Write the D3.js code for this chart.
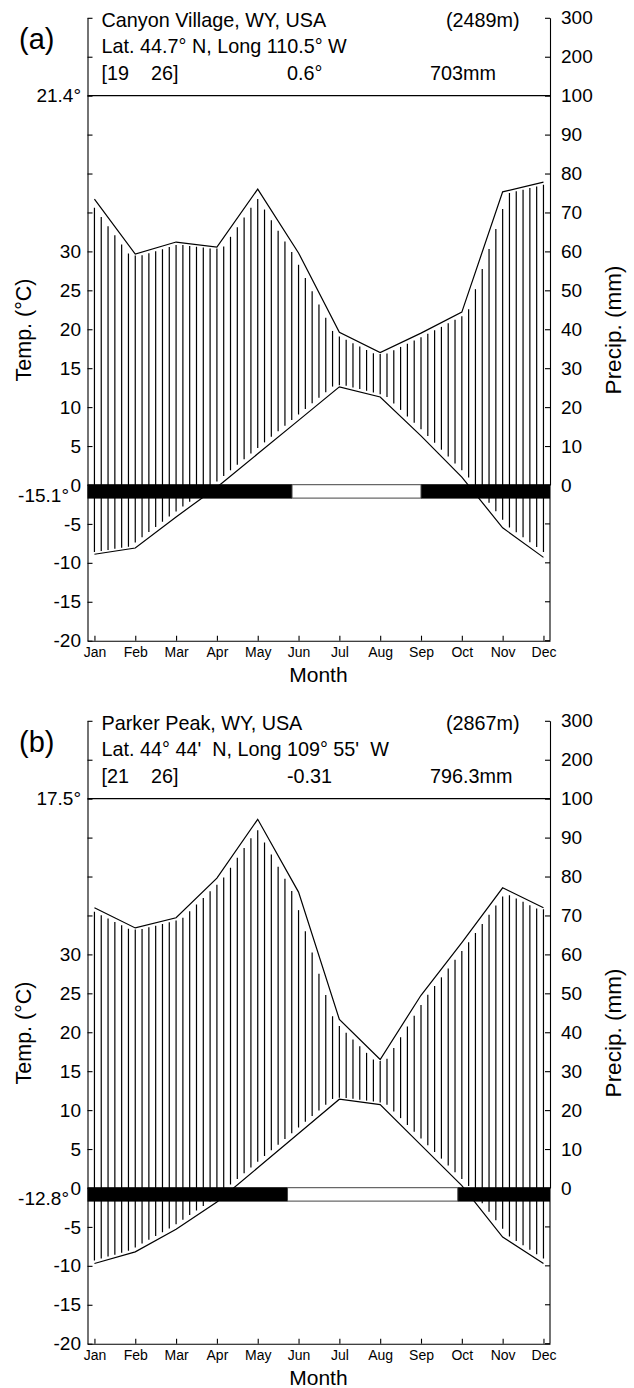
<!DOCTYPE html>
<html><head><meta charset="utf-8">
<script src="https://cdn.jsdelivr.net/npm/d3@7"></script>
<style>
html,body{margin:0;padding:0;background:#fff;}
svg{display:block;font-family:"Liberation Sans",Arial,sans-serif;}
</style></head><body>
<svg id="chart" width="634" height="1388"></svg>
<script>
// ---------- data ----------
const months = ["Jan","Feb","Mar","Apr","May","Jun","Jul","Aug","Sep","Oct","Nov","Dec"];
const panelLabels = ["(a)", "(b)"];
const stationNames = ["Canyon Village, WY, USA", "Parker Peak, WY, USA"];
const altitudes = ["(2489m)", "(2867m)"];
const coordTexts = ["Lat. 44.7° N, Long 110.5° W", "Lat. 44° 44'  N, Long 109° 55'  W"];
const periodTexts = ["[19    26]", "[21    26]"];
const meanTempTexts = ["0.6°", "-0.31"];
const annualPrecipTexts = ["703mm", "796.3mm"];
const maxWarmTexts = ["21.4°", "17.5°"];
const minColdTexts = ["-15.1°", "-12.8°"];

// monthly mean temperature (°C)
const tempA = [-8.9, -8.1, -4.1, -0.3, 4.0, 8.3, 12.6, 11.3, 6.3, 1.0, -5.5, -9.3];
const tempB = [-9.7, -8.2, -5.3, -1.8, 2.6, 7.0, 11.4, 10.7, 5.5, 0.3, -6.3, -9.7];
// monthly precipitation (mm)
const precipA = [73.4, 59.3, 62.4, 61.1, 76.0, 59.6, 39.2, 34.0, 39.0, 44.4, 75.3, 77.8];
const precipB = [72.0, 66.8, 69.4, 79.6, 94.7, 76.0, 43.3, 33.0, 49.5, 63.0, 77.1, 72.0];
// frost-free interval on the bar (month index, Jan = 0)
const frostFreeA = [4.84, 8.0];
const frostFreeB = [4.73, 8.9];

const tempTickLabels = [-20, -15, -10, -5, 0, 5, 10, 15, 20, 25, 30];
const precipTickLabels = [0, 10, 20, 30, 40, 50, 60, 70, 80, 90, 100, 200, 300];

const panels = [
  {label: panelLabels[0], name: stationNames[0], alt: altitudes[0], coord: coordTexts[0], period: periodTexts[0],
   meanT: meanTempTexts[0], annP: annualPrecipTexts[0], maxT: maxWarmTexts[0], minT: minColdTexts[0],
   temp: tempA, precip: precipA, frostFree: frostFreeA},
  {label: panelLabels[1], name: stationNames[1], alt: altitudes[1], coord: coordTexts[1], period: periodTexts[1],
   meanT: meanTempTexts[1], annP: annualPrecipTexts[1], maxT: maxWarmTexts[1], minT: minColdTexts[1],
   temp: tempB, precip: precipB, frostFree: frostFreeB}
];

// ---------- layout ----------
const svg = d3.select("#chart");
const panelOffset = 703;
const x = d3.scaleLinear().domain([-0.17, 11.16]).range([87.5, 550]);
const y = d3.scaleLinear().domain([-20, 60]).range([640.7, 17.8]);
// precipitation: 0-100 mm at 2 mm/°C, above 100 mm compressed (100 mm per 5 °C)
const yP = d3.scaleLinear().domain([0, 100, 300]).range([y(0), y(50), y(60)]);
const allTicks = d3.range(-20, 61, 5);

function interp(arr, m) {
  m = Math.max(0, Math.min(11, m));
  const i = Math.min(10, Math.floor(m));
  const f = m - i;
  return arr[i] * (1 - f) + arr[i + 1] * f;
}

panels.forEach((p, pi) => {
  const g = svg.append("g").attr("transform", `translate(0,${pi * panelOffset})`);

  // hatching (humid period)
  const d = 0.13;
  const hatch = [];
  for (let k = 0; k <= 66; k++) {
    const m = k / 6;
    const pr = Math.min(interp(p.precip, m), interp(p.precip, m - d), interp(p.precip, m + d));
    const tt = Math.max(interp(p.temp, m), interp(p.temp, m - d), interp(p.temp, m + d));
    hatch.push({m, top: yP(pr) + 1.5, bot: y(tt) - 1.5});
  }
  g.append("g").selectAll("line").data(hatch.filter(h => h.bot > h.top)).join("line")
    .attr("x1", h => x(h.m)).attr("x2", h => x(h.m))
    .attr("y1", h => h.top).attr("y2", h => h.bot)
    .attr("stroke", "#000").attr("stroke-width", 1.2);

  // curves
  g.append("path").datum(p.temp)
    .attr("d", d3.line().x((v, i) => x(i)).y(v => y(v)))
    .attr("fill", "none").attr("stroke", "#000").attr("stroke-width", 1.2);
  g.append("path").datum(p.precip)
    .attr("d", d3.line().x((v, i) => x(i)).y(v => yP(v)))
    .attr("fill", "none").attr("stroke", "#000").attr("stroke-width", 1.2);

  // frost bar
  const barTop = y(0.1), barBot = y(-1.75);
  const [x0, x1] = x.range();
  g.append("rect").attr("x", x0).attr("y", barTop).attr("width", x(p.frostFree[0]) - x0)
    .attr("height", barBot - barTop).attr("fill", "#000");
  g.append("rect").attr("x", x(p.frostFree[1])).attr("y", barTop).attr("width", x1 - x(p.frostFree[1]))
    .attr("height", barBot - barTop).attr("fill", "#000");
  g.append("rect").attr("x", x(p.frostFree[0])).attr("y", barTop + 0.5)
    .attr("width", x(p.frostFree[1]) - x(p.frostFree[0])).attr("height", barBot - barTop - 1)
    .attr("fill", "#fff").attr("stroke", "#444").attr("stroke-width", 1);

  // 100 mm line
  g.append("line").attr("x1", x0).attr("x2", x1).attr("y1", y(50)).attr("y2", y(50))
    .attr("stroke", "#000").attr("stroke-width", 1.4);

  // axes
  const leftAxis = d3.axisLeft(y).tickValues(allTicks).tickSizeInner(-5).tickSizeOuter(0).tickPadding(6.5)
    .tickFormat(v => tempTickLabels.includes(v) ? String(v) : "");
  const gl = g.append("g").attr("transform", `translate(${x0},0)`).call(leftAxis);
  const rightAxis = d3.axisRight(yP).tickValues(allTicks.filter(t => t >= 0).map(t => t <= 50 ? t * 2 : 100 + (t - 50) * 20))
    .tickSizeInner(-5).tickSizeOuter(0).tickPadding(11)
    .tickFormat(v => precipTickLabels.includes(v) ? String(v) : "");
  const gr = g.append("g").attr("transform", `translate(${x1},0)`).call(rightAxis);
  // right-axis ticks below zero (temperature grid)
  g.append("g").selectAll("line").data(allTicks.filter(t => t < 0)).join("line")
    .attr("x1", x1 - 5).attr("x2", x1).attr("y1", t => y(t)).attr("y2", t => y(t))
    .attr("stroke", "#000").attr("stroke-width", 1.1);
  g.append("line").attr("x1", x1).attr("x2", x1).attr("y1", y(0)).attr("y2", y(-20))
    .attr("stroke", "#000").attr("stroke-width", 1.1);
  const bottomAxis = d3.axisBottom(x).tickValues(d3.range(12)).tickSizeInner(-5).tickSizeOuter(0).tickPadding(6)
    .tickFormat(i => months[i]);
  const gb = g.append("g").attr("transform", `translate(0,${y(-20)})`).call(bottomAxis);

  [gl, gr, gb].forEach(a => {
    a.selectAll("path, line").attr("stroke", "#000").attr("stroke-width", 1.1);
    a.selectAll("text").attr("fill", "#000").style("font-family", '"Liberation Sans", Arial, sans-serif');
  });
  gl.selectAll("text").style("font-size", "19px");
  gr.selectAll("text").style("font-size", "19px");
  gb.selectAll("text").style("font-size", "14px");

  // extreme temperature labels
  g.append("text").attr("x", 81).attr("y", y(50)).attr("dy", "0.32em").attr("text-anchor", "end")
    .style("font-size", "19px").text(p.maxT);
  g.append("text").attr("x", 69).attr("y", y(-1.4)).attr("dy", "0.32em").attr("text-anchor", "end")
    .style("font-size", "19px").text(p.minT);

  // header
  g.append("text").attr("x", 19).attr("y", 49).style("font-size", "29px").text(p.label);
  const hdr = [
    {t: p.name, x: 101.5, y: 26.5},
    {t: p.alt, x: 446, y: 26.5},
    {t: p.coord, x: 101.5, y: 53},
    {t: p.period, x: 101.5, y: 80},
    {t: p.meanT, x: 287, y: 80},
    {t: p.annP, x: 430, y: 80}
  ];
  g.append("g").selectAll("text").data(hdr).join("text")
    .attr("x", h => h.x).attr("y", h => h.y).style("font-size", "19.8px")
    .style("white-space", "pre").text(h => h.t);

  // axis titles
  g.append("text").attr("transform", `translate(31,330) rotate(-90)`).attr("text-anchor", "middle")
    .style("font-size", "21.5px").text("Temp. (°C)");
  g.append("text").attr("transform", `translate(621,330) rotate(-90)`).attr("text-anchor", "middle")
    .style("font-size", "22.5px").text("Precip. (mm)");
  g.append("text").attr("x", x(5.5) - 0.5).attr("y", 682).attr("text-anchor", "middle")
    .style("font-size", "21px").text("Month");
});
</script>
</body></html>
